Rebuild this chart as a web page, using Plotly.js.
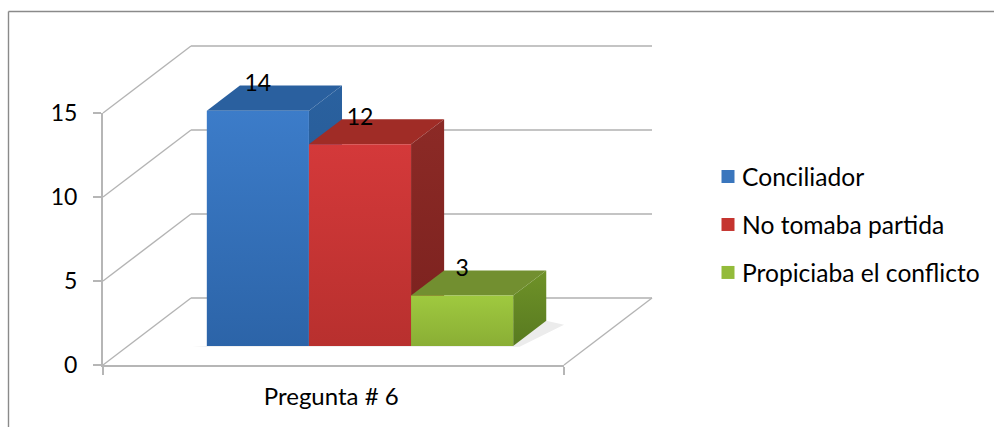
<!DOCTYPE html>
<html>
<head>
<meta charset="utf-8">
<script src="https://cdn.plot.ly/plotly-3.0.1.min.js"></script>
<style>html,body{margin:0;padding:0;background:#fff}#chart{width:994px;height:427px}</style>
</head>
<body>
<div id="chart"></div>
<script>
// ---- data ----
const category = 'Pregunta # 6';
const seriesNames = ['Conciliador', 'No tomaba partida', 'Propiciaba el conflicto'];
const seriesValues = [14, 12, 3];
const yTicks = [0, 5, 10, 15];

// ---- styles ----
const frontColors = [['#3c7cc9', '#2c64a8'], ['#d4393a', '#b8302e'], ['#9fc93f', '#8aae35']];
const topColors = ['#2a609f', '#a02c26', '#728f30'];
const sideColors = [['#2a619f', '#24558e'], ['#8c2a26', '#7a211e'], ['#6f9228', '#587a20']];
const legendColors = ['#3a76bd', '#c5342f', '#93bb3a'];
const FONT = 'Lato, "Open Sans", sans-serif';
const W = 994, H = 427;

// geometry of the oblique projection (px only used to derive axis ranges)
const px0 = 103, px1 = 564, py0 = 365, py15 = 113, backDx = 88, backDy = 67;
const pxPerUnitY = (py0 - py15) / 15, pxPerUnitX = px1 - px0;
const depthX = backDx / pxPerUnitX, depthY = backDy / pxPerUnitY;
const barDepthStart = 0.284, barDepthEnd = 0.66;
const barW = 0.2215, barStart = 0.171;
const project = (x, v, d) => [x + d * depthX, v + d * depthY];

function poly(points) {
  const p = points.map(a => project(a[0], a[1], a[2]));
  return { x: p.map(a => a[0]), y: p.map(a => a[1]) };
}
const base = { type: 'scatter', xaxis: 'x2', yaxis: 'y2', hoverinfo: 'skip', showlegend: false };
const traces = [];

// the front axes need a trace to be drawn
traces.push({ type: 'scatter', mode: 'none', x: [0, 1], y: [0, 15], xaxis: 'x', yaxis: 'y', hoverinfo: 'skip', showlegend: false });

// walls and floor
const gridColor = '#c4c4c4';
yTicks.forEach(v => {
  const side = poly([[0, v, 0], [0, v, 1]]);
  traces.push({ ...base, mode: 'lines', ...side, line: { color: '#b4b4b4', width: 1.4 } });
  const back = poly([[0, v, 1], [1, v, 1]]);
  traces.push({ ...base, mode: 'lines', ...back, line: { color: gridColor, width: 2 } });
});
traces.push({ ...base, mode: 'lines', ...poly([[1, 0, 1], [1, 0, 0]]), line: { color: '#b4b4b4', width: 1.4 } });

// soft floor shadow
const s0 = barStart, s1 = barStart + seriesValues.length * barW;
traces.push({ ...base, mode: 'lines', fill: 'toself', fillcolor: '#ececec', line: { width: 0 },
  ...poly([[s0 - 0.03, 0, barDepthStart - 0.01], [s1 + 0.016, 0, barDepthStart - 0.01],
           [s1 + 0.05, 0, barDepthEnd - 0.06], [s1, 0, barDepthEnd], [s0, 0, barDepthStart]]) });

// bars as oblique boxes
seriesValues.forEach((val, i) => {
  const l = barStart + i * barW, r = l + barW;
  const d0 = barDepthStart, d1 = barDepthEnd;
  traces.push({ ...base, mode: 'lines', fill: 'toself', line: { width: 0 }, fillcolor: topColors[i],
    ...poly([[l, val, d0], [r, val, d0], [r, val, d1], [l, val, d1], [l, val, d0]]) });
  traces.push({ ...base, mode: 'lines', fill: 'toself', line: { width: 0 },
    fillgradient: { type: 'vertical', colorscale: [[0, sideColors[i][1]], [1, sideColors[i][0]]] },
    ...poly([[r, 0, d0], [r, 0, d1], [r, val, d1], [r, val, d0], [r, 0, d0]]) });
  traces.push({ ...base, mode: 'lines', fill: 'toself', line: { width: 0 },
    fillgradient: { type: 'vertical', colorscale: [[0, frontColors[i][1]], [1, frontColors[i][0]]] },
    ...poly([[l, 0, d0], [r, 0, d0], [r, val, d0], [l, val, d0], [l, 0, d0]]) });
});

// value labels
const labelLift = 1.5;
traces.push({ ...base, mode: 'text',
  x: seriesValues.map((v, i) => project(barStart + (i + 0.5) * barW, v, barDepthStart)[0]),
  y: seriesValues.map(v => project(0, v, barDepthStart)[1] + labelLift),
  text: seriesValues.map(String), textposition: 'middle center',
  textfont: { family: FONT, size: 23, color: '#000' }, cliponaxis: false });

// legend entries
seriesNames.forEach((name, i) => {
  traces.push({ type: 'scatter', mode: 'markers', name, legendgroup: name, x: [null], y: [null],
    xaxis: 'x2', yaxis: 'y2', hoverinfo: 'skip',
    marker: { symbol: 'square', size: 13, color: legendColors[i] } });
});

const x2Range = [(0 - px0) / pxPerUnitX, (W - px0) / pxPerUnitX];
const y2Range = [(py0 - H) / pxPerUnitY, py0 / pxPerUnitY];
const axisColor = '#b6b6b6';

const layout = {
  width: W, height: H, margin: { l: 0, r: 0, t: 0, b: 0 },
  paper_bgcolor: '#fff', plot_bgcolor: 'rgba(0,0,0,0)',
  font: { family: FONT, size: 19, color: '#000' },
  xaxis: {
    domain: [px0 / W, px1 / W], range: [0, 1], showgrid: false, zeroline: false,
    showline: true, linecolor: axisColor, linewidth: 2,
    tickmode: 'array', tickvals: [0.495], ticktext: [category], ticks: '', ticklabelstandoff: 9,
    tickfont: { family: FONT, size: 24, color: '#000' },
    minor: { tickmode: 'array', tickvals: [0, 1], ticks: 'outside', ticklen: 8, tickwidth: 2, tickcolor: axisColor, showgrid: false }
  },
  yaxis: {
    domain: [(H - py0) / H, (H - py15) / H], range: [0, 15], showgrid: false, zeroline: false,
    showline: true, linecolor: axisColor, linewidth: 2,
    tickmode: 'array', tickvals: yTicks, ticks: 'outside', ticklen: 8, tickwidth: 2, tickcolor: axisColor,
    ticklabelstandoff: 11, tickfont: { family: FONT, size: 23, color: '#000' }
  },
  xaxis2: { domain: [0, 1], range: x2Range, anchor: 'y2', visible: false },
  yaxis2: { domain: [0, 1], range: y2Range, anchor: 'x2', visible: false },
  legend: { x: 702 / W, xanchor: 'left', y: 1 - 154 / H, yanchor: 'top', traceorder: 'grouped',
    tracegroupgap: 13, bgcolor: 'rgba(0,0,0,0)', font: { family: FONT, size: 24.6, color: '#000' },
    itemclick: false, itemdoubleclick: false },
  shapes: [
    { type: 'line', xref: 'paper', yref: 'paper', x0: 8.5 / W, x1: 1, y0: 1 - 11.5 / H, y1: 1 - 11.5 / H, line: { color: '#8a8a8a', width: 1.4 } },
    { type: 'line', xref: 'paper', yref: 'paper', x0: 8.5 / W, x1: 8.5 / W, y0: 1 - 11.5 / H, y1: 0, line: { color: '#8a8a8a', width: 1.4 } }
  ],
  showlegend: true
};

Plotly.newPlot('chart', traces, layout, { displayModeBar: false }).then(() => {
  // the reference keys sit closer to their text than Plotly's default slot
  document.querySelectorAll('#chart .legend .legendpoints').forEach(g => {
    g.setAttribute('transform', 'translate(6,0)');
  });
});
</script>
</body>
</html>
